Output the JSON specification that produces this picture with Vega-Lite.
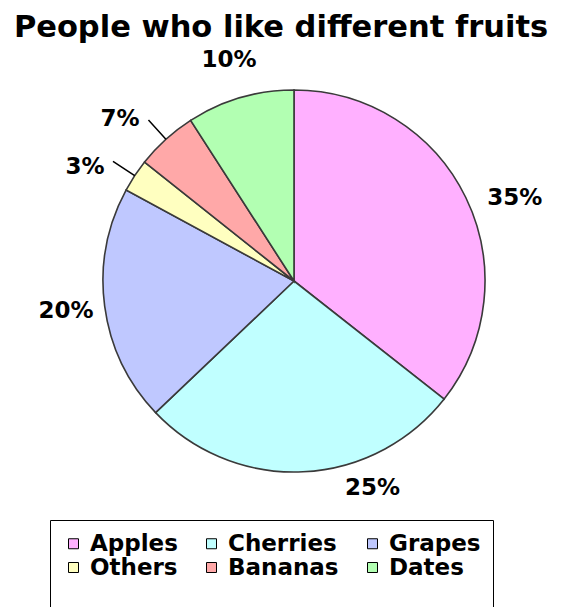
{
  "$schema": "https://vega.github.io/schema/vega-lite/v6.json",
  "width": 534,
  "height": 440,
  "autosize": {"type": "none"},
  "padding": {"left": 27, "top": 61, "right": 0, "bottom": 106},
  "background": "white",
  "title": {
    "text": "People who like different fruits",
    "font": "DejaVu Sans",
    "fontSize": 30.5,
    "fontWeight": "bold",
    "color": "black",
    "anchor": "middle",
    "frame": "group",
    "dx": -13,
    "dy": 25,
    "offset": 20
  },
  "data": {
    "values": [
      {"fruit": "Apples", "value": 35.6, "label": "35%", "order": 1},
      {"fruit": "Cherries", "value": 27.3, "label": "25%", "order": 2},
      {"fruit": "Grapes", "value": 20.0, "label": "20%", "order": 3},
      {"fruit": "Others", "value": 2.8, "label": "3%", "order": 4},
      {"fruit": "Bananas", "value": 5.2, "label": "7%", "order": 5},
      {"fruit": "Dates", "value": 9.1, "label": "10%", "order": 6}
    ]
  },
  "encoding": {
    "theta": {"field": "value", "type": "quantitative", "stack": true},
    "order": {"field": "order", "type": "quantitative"}
  },
  "layer": [
    {
      "mark": {"type": "arc", "outerRadius": 191, "stroke": "#3a3a3a", "strokeWidth": 1.6},
      "encoding": {
        "color": {
          "field": "fruit",
          "type": "nominal",
          "scale": {
            "domain": ["Apples", "Cherries", "Grapes", "Others", "Bananas", "Dates"],
            "range": ["#FFB0FF", "#C0FFFF", "#BFC8FF", "#FFFFC0", "#FFA8A8", "#B2FFB2"]
          },
          "legend": {
            "title": " ",
            "titleOrient": "bottom",
            "titleFontSize": 22,
            "titlePadding": 0,
            "orient": "none",
            "legendX": 23,
            "legendY": 459,
            "columns": 3,
            "direction": "horizontal",
            "symbolType": "square",
            "symbolSize": 100,
            "symbolStrokeColor": "black",
            "symbolStrokeWidth": 1,
            "symbolOpacity": 1,
            "labelFont": "DejaVu Sans",
            "labelFontSize": 23,
            "labelFontWeight": "bold",
            "labelColor": "black",
            "labelOffset": 5,
            "labelLimit": 300,
            "columnPadding": 22,
            "rowPadding": 0,
            "padding": 12,
            "strokeColor": "black"
          }
        }
      }
    },
    {
      "mark": {"type": "arc", "innerRadius": 191, "outerRadius": 217, "padAngle": 0.8, "fillOpacity": 0, "stroke": "black", "strokeWidth": 1.5},
      "encoding": {
        "detail": {"field": "fruit"},
        "strokeOpacity": {"condition": {"test": "datum.fruit === 'Others' || datum.fruit === 'Bananas'", "value": 1}, "value": 0}
      }
    },
    {
      "mark": {"type": "text", "radius": 230, "font": "DejaVu Sans", "fontSize": 23, "fontWeight": "bold", "color": "black"},
      "encoding": {
        "detail": {"field": "fruit"},
        "text": {"condition": {"test": "datum.fruit === 'Grapes' || datum.fruit === 'Dates'", "field": "label"}, "value": ""}
      }
    },
    {
      "mark": {"type": "text", "radius": 236, "thetaOffset": 0.0925, "font": "DejaVu Sans", "fontSize": 23, "fontWeight": "bold", "color": "black"},
      "encoding": {
        "detail": {"field": "fruit"},
        "text": {"condition": {"test": "datum.fruit === 'Apples'", "field": "label"}, "value": ""}
      }
    },
    {
      "mark": {"type": "text", "radius": 221, "thetaOffset": -0.316, "font": "DejaVu Sans", "fontSize": 23, "fontWeight": "bold", "color": "black"},
      "encoding": {
        "detail": {"field": "fruit"},
        "text": {"condition": {"test": "datum.fruit === 'Cherries'", "field": "label"}, "value": ""}
      }
    },
    {
      "mark": {"type": "text", "radius": 238, "thetaOffset": -0.085, "font": "DejaVu Sans", "fontSize": 23, "fontWeight": "bold", "color": "black"},
      "encoding": {
        "detail": {"field": "fruit"},
        "text": {"condition": {"test": "datum.fruit === 'Others' || datum.fruit === 'Bananas'", "field": "label"}, "value": ""}
      }
    }
  ]
}
